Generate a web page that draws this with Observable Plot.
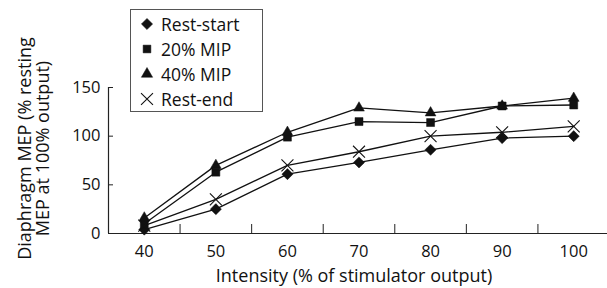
<!DOCTYPE html>
<html>
<head>
<meta charset="utf-8">
<script src="https://cdn.jsdelivr.net/npm/d3@7"></script>
<script src="https://cdn.jsdelivr.net/npm/@observablehq/plot@0.6"></script>
<style>
  body { margin: 0; background: white; }
  #wrap { position: relative; width: 607px; height: 288px; font-family: "Open Sans", sans-serif; color: #111; }
  #legend { position: absolute; left: 130px; top: 9px; width: 133px; height: 103px; border: 1px solid #555; background: white; box-sizing: border-box; }
  .row { position: absolute; left: 0; height: 24px; display: flex; align-items: center; font-size: 17.5px; }
  .row svg { margin-left: 9px; margin-right: 7px; }
</style>
</head>
<body>
<div id="wrap"></div>
<script>
const intensity = [40, 50, 60, 70, 80, 90, 100];
const restStart = [4, 25, 61, 73, 86, 98, 100];
const mip20 = [10, 63, 99, 115, 114, 131, 132];
const mip40 = [16, 70, 104, 129, 124, 131, 139];
const restEnd = [8, 35, 70, 84, 100, 104, 110];
const seriesNames = ["Rest-start", "20% MIP", "40% MIP", "Rest-end"];
const seriesSymbols = ["diamond2", "square", "triangle", "times"];
const yTicks = [0, 50, 100, 150];
const xBoundaries = [45, 55, 65, 75, 85, 95, 105];
const xLabel = "Intensity (% of stimulator output)";
const yLabel = "Diaphragm MEP (% resting\nMEP at 100% output)";

const seriesValues = [restStart, mip20, mip40, restEnd];
const rows = seriesNames.flatMap((name, i) =>
  intensity.map((x, j) => ({series: name, x, y: seriesValues[i][j]})));

const symbolR = {"Rest-start": 5, "20% MIP": 4.5, "40% MIP": 4, "Rest-end": 5.5};

const marks = [
  Plot.ruleY([0], {stroke: "#222", strokeWidth: 1.2}),
  Plot.ruleX([35], {stroke: "#222", strokeWidth: 1.2}),
  Plot.tickX(xBoundaries, {stroke: "#222", strokeWidth: 1, insetTop: 137}),
  Plot.tickY(yTicks, {stroke: "#222", strokeWidth: 1, insetRight: 496}),
  Plot.axisX({ticks: intensity, tickSize: 0, tickPadding: 12, label: null, fontSize: 16.5}),
  Plot.axisY({ticks: yTicks, tickSize: 0, tickPadding: 8, label: null, fontSize: 16.5}),
  Plot.text([xLabel], {frameAnchor: "bottom", dy: 43, dx: -5, fontSize: 18, lineAnchor: "middle"}),
  Plot.text([yLabel], {frameAnchor: "left", rotate: -90, dx: -74, dy: -12, fontSize: 18, lineHeight: 0.97, lineAnchor: "middle", textAnchor: "middle"})
];
seriesNames.forEach((name, i) => {
  const d = rows.filter(r => r.series === name);
  marks.push(Plot.line(d, {x: "x", y: "y", stroke: "#111", strokeWidth: 1.3}));
  marks.push(Plot.dot(d, {
    x: "x", y: "y", symbol: () => seriesSymbols[i], r: symbolR[name],
    fill: seriesSymbols[i] === "times" ? "none" : "#111",
    stroke: "#111", strokeWidth: seriesSymbols[i] === "times" ? 1.1 : 0.5
  }));
});

const chart = Plot.plot({
  width: 607, height: 288,
  marginTop: 87, marginBottom: 55, marginLeft: 108, marginRight: -2,
  style: {fontFamily: "Open Sans, sans-serif", fontSize: "16px", color: "#111", background: "white"},
  x: {type: "linear", domain: [35, 105]},
  y: {domain: [0, 150]},
  symbol: {type: "identity"},
  marks
});
const wrap = document.getElementById("wrap");
wrap.appendChild(chart);

const legend = document.createElement("div");
legend.id = "legend";
const legendSize = {"diamond2": 80, "square": 60, "triangle": 55, "times": 95};
const symMap = {diamond2: d3.symbolDiamond2, square: d3.symbolSquare, triangle: d3.symbolTriangle, times: d3.symbolTimes};
seriesNames.forEach((name, i) => {
  const row = document.createElement("div");
  row.className = "row";
  row.style.top = (2 + i * 25) + "px";
  const s = seriesSymbols[i];
  const path = d3.symbol(symMap[s], legendSize[s])();
  const filled = s !== "times";
  row.innerHTML = `<svg width="14" height="14" viewBox="-7 -7 14 14"><path d="${path}" fill="${filled ? "#111" : "none"}" stroke="#111" stroke-width="${filled ? 0.5 : 1.1}"/></svg><span>${name}</span>`;
  legend.appendChild(row);
});
wrap.appendChild(legend);
</script>
</body>
</html>
